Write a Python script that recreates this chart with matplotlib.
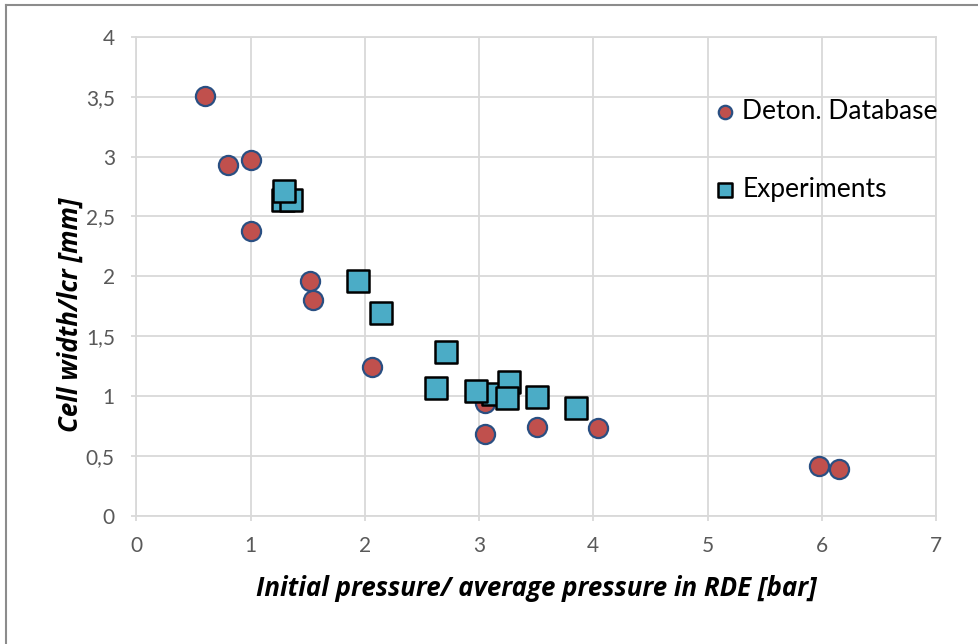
import matplotlib.pyplot as plt
from matplotlib.lines import Line2D

# Deton. Database points
db_x = [0.60, 0.80, 1.00, 1.00, 1.52, 1.55, 2.06, 3.05, 3.05, 3.51, 4.04, 5.98, 6.15]
db_y = [3.51, 2.93, 2.97, 2.38, 1.96, 1.80, 1.24, 0.94, 0.68, 0.74, 0.73, 0.41, 0.39]

# Experiments
ex_x = [1.28, 1.35, 1.29, 1.94, 2.14, 2.71, 2.62, 3.12, 2.97, 3.26, 3.24, 3.51, 3.85]
ex_y = [2.64, 2.64, 2.71, 1.96, 1.69, 1.37, 1.07, 1.02, 1.04, 1.12, 0.98, 0.99, 0.90]

xticks = [0, 1, 2, 3, 4, 5, 6, 7]
yticks = [0, 0.5, 1, 1.5, 2, 2.5, 3, 3.5, 4]

plt.rcParams['font.family'] = ['Lato', 'DejaVu Sans']
grid_c = '#d9d9d9'

fig = plt.figure(figsize=(9.79, 6.44), dpi=100)
ax = fig.add_axes([0.1394, 0.1995, 0.8166, 0.743])

ax.scatter(db_x, db_y, s=190, marker='o', facecolor='#c0504d', edgecolor='#2a4f82',
           linewidth=1.6, zorder=3, label='Deton. Database')
ax.scatter(ex_x, ex_y, s=230, marker='s', facecolor='#4bacc6', edgecolor='black',
           linewidth=1.8, zorder=4, label='Experiments')

ax.set_xlim(0, 7)
ax.set_ylim(0, 4)
ax.set_xticks(xticks)
ax.set_yticks(yticks)
ax.set_xticklabels([str(t) for t in xticks])
ax.set_yticklabels([str(t).replace('.', ',').replace(',0', '') for t in yticks])
ax.grid(True, color=grid_c, linewidth=1.3)
ax.set_axisbelow(True)
for sp in ax.spines.values():
    sp.set_color(grid_c)
    sp.set_linewidth(1.3)
ax.tick_params(colors='#595959', labelsize=15, length=3.6, width=1.3)
ax.tick_params(axis='both', color=grid_c)
ax.tick_params(axis='x', pad=11)
ax.tick_params(axis='y', pad=12)

lab_font = dict(family=['Open Sans', 'DejaVu Sans'], fontsize=18.6, fontweight='bold',
                style='italic')
ax.set_xlabel('Initial pressure/ average pressure in RDE [bar]', **lab_font)
ax.set_ylabel('Cell width/lcr [mm]', **lab_font)
ax.xaxis.set_label_coords(0.5, -0.152)
ax.yaxis.set_label_coords(-0.083, 0.419)
ax.xaxis.label.set_va('center')
ax.yaxis.label.set_va('center')

leg = ax.legend(loc='upper left', bbox_to_anchor=(0.69, 0.921), frameon=False,
                fontsize=19, labelspacing=2.03, handlelength=1.0, handletextpad=0.15,
                markerscale=0.7)

# outer chart border (top and left visible)
fig.add_artist(Line2D([6/979, 1.01], [1 - 5/644, 1 - 5/644], color='#8c8c8c', lw=1.5))
fig.add_artist(Line2D([6/979, 6/979], [-0.01, 1 - 5/644], color='#8c8c8c', lw=1.5))

fig.savefig('out.png', dpi=100)
